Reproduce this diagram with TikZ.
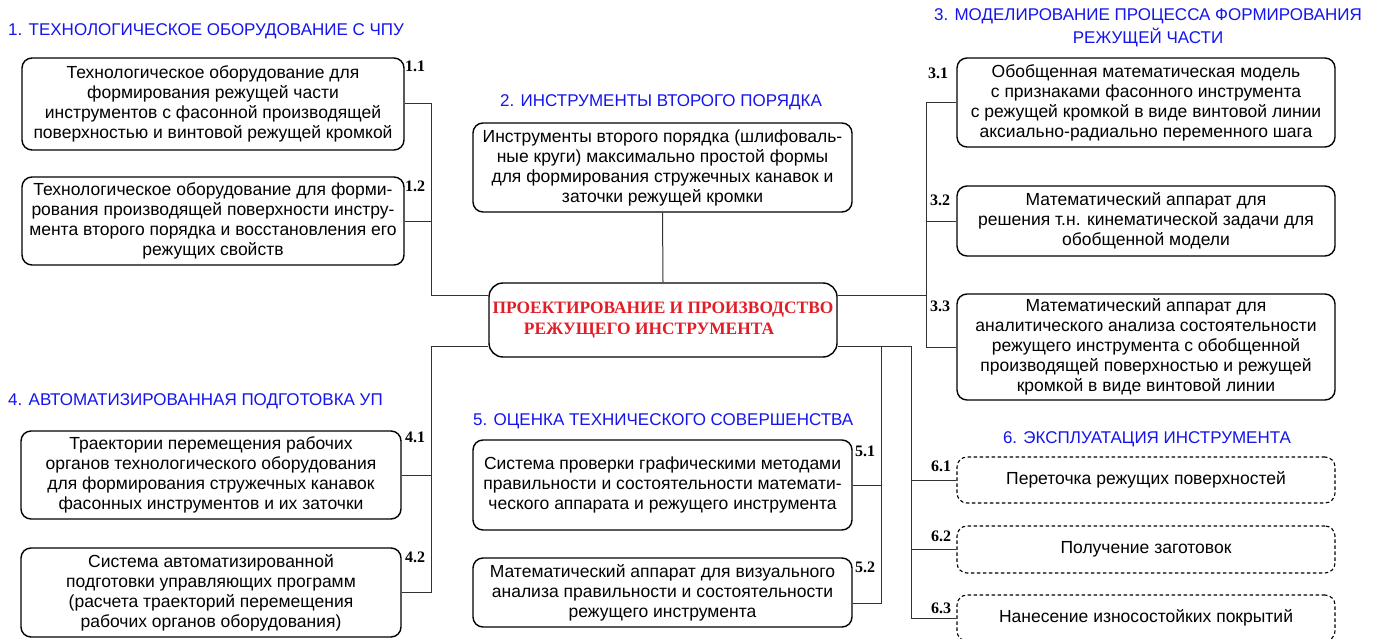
\documentclass[tikz,border=0pt]{standalone}
\usepackage{fontspec}
\setmainfont{Liberation Sans}
\newfontfamily\serifbold{Liberation Serif}
\definecolor{titleblue}{RGB}{20,20,235}
\definecolor{centerred}{RGB}{225,30,40}
\definecolor{linegray}{RGB}{50,50,50}
\begin{document}
\begin{tikzpicture}[x=1pt,y=-1pt,
  box/.style={draw=black, line width=1.4pt, rounded corners=10pt, align=center,
    inner sep=0pt, font=\fontsize{17.5}{20}\selectfont, text=black},
  dbox/.style={box, dashed, dash pattern=on 3.5pt off 2.5pt, line width=1.1pt},
  title/.style={text=titleblue, font=\fontsize{17}{23}\selectfont, inner sep=0pt, align=center},
  num/.style={font=\serifbold\bfseries\fontsize{16}{16}\selectfont, inner sep=0pt},
  conn/.style={draw=linegray, line width=1pt}]
\useasboundingbox (0,0) rectangle (1375,639);

% titles
\node[title, anchor=west] (t1) at (8,31) {1. ТЕХНОЛОГИЧЕСКОЕ ОБОРУДОВАНИЕ С ЧПУ};
\node[title] (t2) at (661,102) {2. ИНСТРУМЕНТЫ ВТОРОГО ПОРЯДКА};
\node[title] (t3) at (1148,28) {3. МОДЕЛИРОВАНИЕ ПРОЦЕССА ФОРМИРОВАНИЯ\\РЕЖУЩЕЙ ЧАСТИ};
\node[title, anchor=west] (t4) at (8,401) {4. АВТОМАТИЗИРОВАННАЯ ПОДГОТОВКА УП};
\node[title, anchor=west] (t5) at (473,421) {5. ОЦЕНКА ТЕХНИЧЕСКОГО СОВЕРШЕНСТВА};
\node[title] (t6) at (1147,439) {6. ЭКСПЛУАТАЦИЯ ИНСТРУМЕНТА};

% boxes
\node[box, minimum width=382pt, minimum height=92pt] (b11) at (213,104)
  {Технологическое оборудование для\\формирования режущей части\\инструментов с фасонной производящей\\поверхностью и винтовой режущей кромкой};
\node[box, minimum width=382pt, minimum height=88pt] (b12) at (213,221)
  {Технологическое оборудование для форми-\\рования производящей поверхности инстру-\\мента второго порядка и восстановления его\\режущих свойств};
\node[box, minimum width=379pt, minimum height=89pt] (b2) at (662.5,167.5)
  {Инструменты второго порядка (шлифоваль-\\ные круги) максимально простой формы\\для формирования стружечных канавок и\\заточки режущей кромки};
\node[box, rounded corners=14pt, minimum width=348pt, minimum height=74pt,
  font=\serifbold\bfseries\fontsize{17.4}{21}\selectfont, text=centerred] (ctr) at (663,320)
  {ПРОЕКТИРОВАНИЕ И ПРОИЗВОДСТВО\\РЕЖУЩЕГО ИНСТРУМЕНТА\hspace*{28pt}};
\node[box, minimum width=378pt, minimum height=89pt] (b31) at (1146,102.5)
  {Обобщенная математическая модель\\с признаками фасонного инструмента\\с режущей кромкой в виде винтовой линии\\аксиально-радиально переменного шага};
\node[box, minimum width=378pt, minimum height=70pt] (b32) at (1146,221)
  {Математический аппарат для\\решения т.н. кинематической задачи для\\обобщенной модели};
\node[box, minimum width=378pt, minimum height=106pt] (b33) at (1146,347)
  {Математический аппарат для\\аналитического анализа состоятельности\\режущего инструмента с обобщенной\\производящей поверхностью и режущей\\кромкой в виде винтовой линии};
\node[box, minimum width=380pt, minimum height=88pt] (b41) at (211,475)
  {Траектории перемещения рабочих\\органов технологического оборудования\\для формирования стружечных канавок\\фасонных инструментов и их заточки};
\node[box, minimum width=380pt, minimum height=89pt] (b42) at (211,592.5)
  {Система автоматизированной\\подготовки управляющих программ\\(расчета траекторий перемещения\\рабочих органов оборудования)};
\node[box, minimum width=379pt, minimum height=90pt] (b51) at (662.5,485)
  {Система проверки графическими методами\\правильности и состоятельности математи-\\ческого аппарата и режущего инструмента};
\node[box, minimum width=379pt, minimum height=69pt] (b52) at (662.5,592.5)
  {Математический аппарат для визуального\\анализа правильности и состоятельности\\режущего инструмента};
\node[dbox, minimum width=378pt, minimum height=46pt] (b61) at (1146,480)
  {Переточка режущих поверхностей};
\node[dbox, minimum width=378pt, minimum height=47pt] (b62) at (1146,549.5)
  {Получение заготовок};
\node[dbox, minimum width=378pt, minimum height=46pt] (b63) at (1146,618)
  {Нанесение износостойких покрытий};

% number labels
\node[num] (n11) at (415,66) {1.1};
\node[num] (n12) at (415,186) {1.2};
\node[num] (n31) at (938,73) {3.1};
\node[num] (n32) at (940,200) {3.2};
\node[num] (n33) at (940,306) {3.3};
\node[num] (n41) at (415,437) {4.1};
\node[num] (n42) at (415,557) {4.2};
\node[num] (n51) at (865,451) {5.1};
\node[num] (n52) at (865,567) {5.2};
\node[num] (n61) at (941,466) {6.1};
\node[num] (n62) at (941,536) {6.2};
\node[num] (n63) at (941,608) {6.3};

% junction coordinates
\coordinate (jL1) at (431,295);
\coordinate (jL2) at (431,346);
\coordinate (jR1) at (926,295);
\coordinate (jR2) at (926,347);
\coordinate (jR3) at (911,346);
\coordinate (j5) at (881,346);
\coordinate (j52) at (881,603);

% connectors
\draw[conn] (b2.south) -- (ctr.north);
\draw[conn] (b11.east) -| (jL1) -- (ctr.west |- jL1);
\draw[conn] (b12.east) -- (b12.east -| jL1);
\draw[conn] (ctr.west |- jL2) -- (jL2) |- (b42.east);
\draw[conn] (b41.east) -- (b41.east -| jL2);
\draw[conn] (ctr.east |- jR1) -- (jR1);
\draw[conn] (b31.west) -| (jR2) -- (b33.west);
\draw[conn] (b32.west) -- (b32.west -| jR1);
\draw[conn] (ctr.east |- jR3) -- (jR3) |- (b63.west);
\draw[conn] (b61.west) -- (b61.west -| jR3);
\draw[conn] (b62.west) -- (b62.west -| jR3);
\draw[conn] (j5) -- (j52) -- (b52.east |- j52);
\draw[conn] (b51.east) -- (b51.east -| j5);
\end{tikzpicture}
\end{document}
